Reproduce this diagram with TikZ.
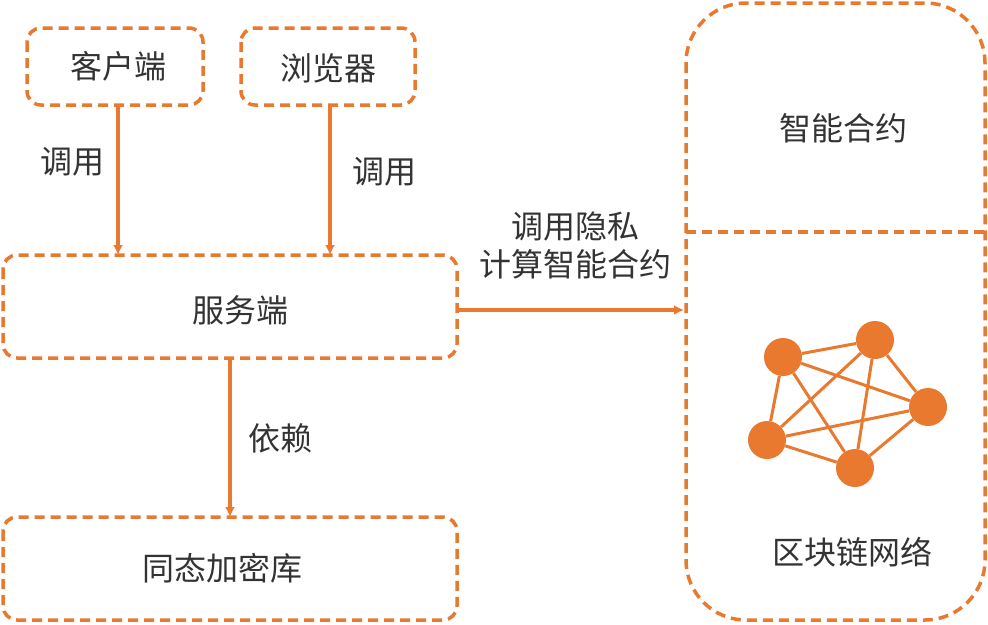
\documentclass[tikz,border=0pt]{standalone}
\usepackage{fontspec}
\setmainfont{Noto Sans CJK SC}
\usetikzlibrary{arrows.meta}
\definecolor{org}{HTML}{E8792F}
\begin{document}
\begin{tikzpicture}[x=1pt,y=-1pt,
  box/.style={draw=org,line width=3.5pt,dash pattern=on 10pt off 6pt,rounded corners=14pt},
  arr/.style={draw=org,line width=3.5pt,-{Latex[length=10pt,width=10pt]}},
  lbl/.style={font=\fontsize{32}{38}\selectfont,text=black!80},
  dot/.style={circle,fill=org,inner sep=0pt,minimum size=38pt}]
\useasboundingbox (0,0) rectangle (988,624);
\draw[box] (27,28) rectangle (203,105);
\node[lbl] (k) at (118,66) {客户端};
\draw[box] (241,28) rectangle (415,105);
\node[lbl] (b) at (328,68) {浏览器};
\draw[box] (3,255) rectangle (457,358);
\node[lbl] (s) at (240,310) {服务端};
\draw[box] (3,517) rectangle (457,620);
\node[lbl] (h) at (222,568) {同态加密库};
\draw[box,rounded corners=60pt] (686,3) rectangle (985,620);
\draw[org,line width=3.5pt,dash pattern=on 10pt off 6pt] (686,232) -- (985,232);
\node[lbl] at (843,128) {智能合约};
\node[lbl] at (852,552) {区块链网络};
\coordinate (k1) at (118,107); \coordinate (k2) at (118,255);
\coordinate (b1) at (330,107); \coordinate (b2) at (330,255);
\coordinate (s1) at (230,360); \coordinate (s2) at (230,517);
\coordinate (s3) at (459,310); \coordinate (r) at (684,310);
\draw[arr] (k1) -- (k2);
\draw[arr] (b1) -- (b2);
\draw[arr] (s1) -- (s2);
\draw[arr] (s3) -- (r);
\node[lbl] at (72,162) {调用};
\node[lbl] at (384,172) {调用};
\node[lbl] at (280,438) {依赖};
\node[lbl,align=center] at (575,245) {调用隐私\\计算智能合约};
\node[dot] (n1) at (783,357) {};
\node[dot] (n2) at (875,340) {};
\node[dot] (n3) at (928,407) {};
\node[dot] (n4) at (855,468) {};
\node[dot] (n5) at (767,440) {};
\foreach \a/\b in {n1/n2,n1/n3,n1/n4,n1/n5,n2/n3,n2/n4,n2/n5,n3/n4,n3/n5,n4/n5}
  \draw[org,line width=3pt] (\a) -- (\b);
\end{tikzpicture}
\end{document}
